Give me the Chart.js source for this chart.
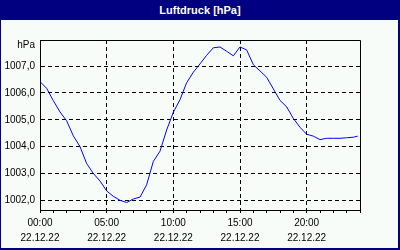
<!DOCTYPE html>
<html>
<head>
<meta charset="utf-8">
<script src="https://cdn.jsdelivr.net/npm/chart.js@4"></script>
<style>
  html, body { margin: 0; padding: 0; background: #f8fcf8; }
  #wrap { position: relative; width: 400px; height: 250px; }
  #chart { position: absolute; left: 0; top: 0; }
  #frame { position: absolute; left: 0; top: 0; width: 400px; height: 250px; box-sizing: border-box;
           border-left: 1px solid #000080; border-right: 2px solid #000080; border-bottom: 2px solid #000080; }
  #title { position: absolute; left: 0; top: 0; width: 400px; height: 20px; background: #000080; color: #fff;
           font: bold 11px "Liberation Sans", Arial, sans-serif; line-height: 20px; text-align: center; }
</style>
</head>
<body>
<div id="wrap">
  <canvas id="chart" width="400" height="250"></canvas>
  <div id="frame"></div>
  <div id="title">Luftdruck [hPa]</div>
</div>
<script>
// time of day in hours (22.12.22)
var hours = [0, 0.5, 1, 1.5, 2, 2.5, 3, 3.5, 4, 4.5, 5, 5.5, 6, 6.5, 7, 7.5, 8, 8.5, 9, 9.5,
  10, 10.5, 11, 11.5, 12, 12.5, 13, 13.5, 14, 14.5, 15, 15.5, 16, 16.5, 17, 17.5, 18, 18.5, 19, 19.5,
  20, 20.5, 21, 21.5, 22, 22.5, 23, 23.5, 23.83];
// air pressure in hPa
var pressure = [1006.42, 1006.17, 1005.71, 1005.29, 1004.96, 1004.40, 1004.00, 1003.37, 1003.00, 1002.72,
  1002.35, 1002.15, 1002.00, 1001.92, 1002.05, 1002.12, 1002.58, 1003.45, 1003.83, 1004.62,
  1005.28, 1005.75, 1006.38, 1006.77, 1007.08, 1007.40, 1007.68, 1007.71, 1007.55, 1007.38,
  1007.71, 1007.60, 1007.05, 1006.82, 1006.58, 1006.15, 1005.72, 1005.48, 1005.05, 1004.72,
  1004.46, 1004.39, 1004.26, 1004.31, 1004.31, 1004.31, 1004.33, 1004.35, 1004.39];

var xTickHours = [0, 1, 2, 3, 4, 5, 6, 7, 8, 9, 10, 11, 12, 13, 14, 15, 16, 17, 18, 19, 20, 21, 22, 23, 24];
var xLabelHours = [0, 5, 10, 15, 20];
var dateLabel = "22.12.22";
var yTicks = [1002, 1003, 1004, 1005, 1006, 1007];
var yMin = 1001.64, yMax = 1007.97;

var fontFamily = '"Liberation Sans", Arial, sans-serif';

function pad2(n) { return (n < 10 ? "0" : "") + n; }

// top/right frame of the plot and the unit label
var plotFrame = {
  id: "plotFrame",
  afterDraw: function (chart) {
    var a = chart.chartArea, c = chart.ctx;
    c.save();
    c.strokeStyle = "#000";
    c.lineWidth = 1;
    c.beginPath();
    c.moveTo(a.left, a.top + 0.5);
    c.lineTo(a.right + 0.5, a.top + 0.5);
    c.lineTo(a.right + 0.5, a.bottom);
    c.stroke();
    c.fillStyle = "#000";
    c.font = "10px " + fontFamily;
    c.textAlign = "right";
    c.textBaseline = "middle";
    c.fillText("hPa", a.left - 5, a.top + 5);
    c.restore();
  }
};

var ctx = document.getElementById("chart").getContext("2d");
var chart = new Chart(ctx, {
  type: "line",
  data: {
    datasets: [{
      data: hours.map(function (h, i) { return { x: h, y: pressure[i] }; }),
      borderColor: "#0000ff",
      borderWidth: 1,
      pointRadius: 0,
      tension: 0,
      fill: false
    }]
  },
  options: {
    responsive: false,
    animation: false,
    layout: { padding: { top: 40, right: 40, left: 0, bottom: 0 } },
    plugins: { legend: { display: false }, tooltip: { enabled: false } },
    scales: {
      x: {
        type: "linear",
        min: 0,
        max: 24,
        afterBuildTicks: function (s) { s.ticks = xTickHours.map(function (v) { return { value: v }; }); },
        afterFit: function (s) { s.height = 40; },
        ticks: {
          autoSkip: false,
          maxRotation: 0,
          padding: 3,
          color: "#000",
          font: { family: fontFamily, size: 10, lineHeight: 1.5 },
          callback: function (v) {
            return xLabelHours.indexOf(v) >= 0 ? [pad2(v) + ":00", dateLabel] : "";
          }
        },
        grid: {
          color: function (c) {
            return c.tick && xLabelHours.indexOf(c.tick.value) > 0 ? "#000" : "rgba(0,0,0,0)";
          },
          tickColor: "#000",
          tickLength: 3,
          lineWidth: 1
        },
        border: { color: "#000", width: 1, dash: [4, 3] }
      },
      y: {
        min: yMin,
        max: yMax,
        afterBuildTicks: function (s) { s.ticks = yTicks.map(function (v) { return { value: v }; }); },
        afterFit: function (s) { s.width = 40; },
        ticks: {
          padding: 5,
          color: "#000",
          font: { family: fontFamily, size: 10 },
          callback: function (v) { return v.toFixed(1).replace(".", ","); }
        },
        grid: { color: "#000", drawTicks: false, lineWidth: 1 },
        border: { color: "#000", width: 1, dash: [4, 3] }
      }
    }
  },
  plugins: [plotFrame]
});
</script>
</body>
</html>
